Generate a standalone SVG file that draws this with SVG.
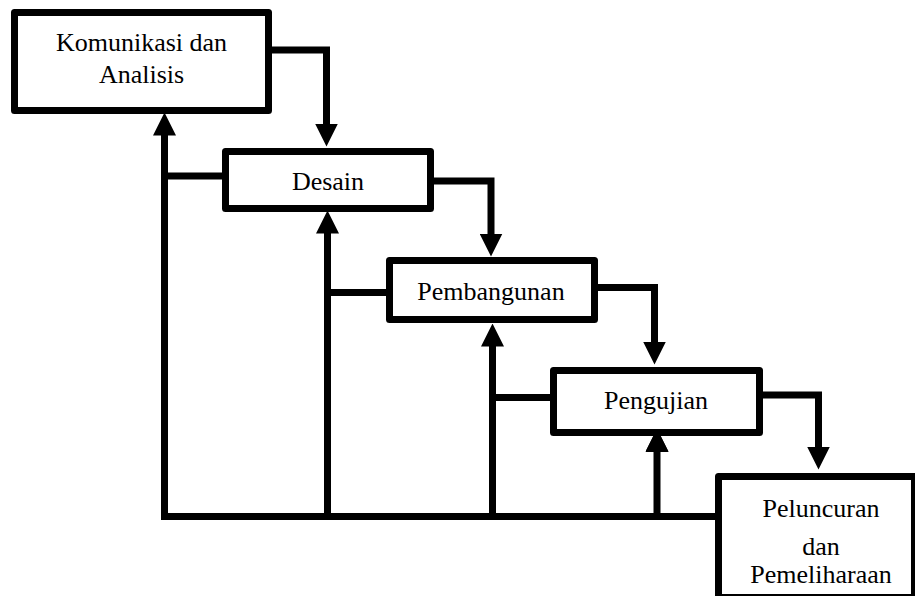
<svg xmlns="http://www.w3.org/2000/svg" width="915" height="596" viewBox="0 0 915 596">
<defs>
<style>
.box{fill:#fff;stroke:#000;stroke-width:7;stroke-linejoin:round}
.lbl{font-family:"Liberation Serif","Times New Roman",serif;font-size:26px;fill:#000;text-anchor:middle}
.c{fill:none;stroke:#000;stroke-width:7;stroke-linejoin:miter}
.ca{fill:none;stroke:#000;stroke-width:7;stroke-linejoin:miter;marker-end:url(#ah)}
</style>
<marker id="ah" markerUnits="userSpaceOnUse" markerWidth="23" markerHeight="23" viewBox="0 0 23 23" refX="0.5" refY="11.5" orient="auto">
<path d="M0,0 L23,11.5 L0,23 Z" fill="#000"/>
</marker>
</defs>
<rect width="915" height="596" fill="#fff"/>
<g id="connectors">
<path class="ca" d="M268,50 H326.5 V124"/>
<path class="ca" d="M430,181 H491 V234"/>
<path class="ca" d="M594,287.5 H654.5 V342"/>
<path class="ca" d="M759,395 H818.5 V447"/>
<path class="ca" d="M718,516.5 H164.5 V135"/>
<path class="c" d="M225,176 H164.5"/>
<path class="ca" d="M327.5,516.5 V233"/>
<path class="c" d="M389,292.5 H327.5"/>
<path class="ca" d="M492.5,516.5 V346"/>
<path class="c" d="M553,397.5 H492.5"/>
<path class="ca" d="M657,516.5 V451"/>
</g>
<g id="komunikasi">
<rect class="box" x="14.5" y="12.5" width="254" height="98"/>
<text class="lbl" x="141.5" y="51">Komunikasi dan</text>
<text class="lbl" x="141.5" y="83">Analisis</text>
</g>
<g id="desain">
<rect class="box" x="225.5" y="151.5" width="205" height="57"/>
<text class="lbl" x="328" y="190">Desain</text>
</g>
<g id="pembangunan">
<rect class="box" x="389.5" y="260.5" width="205" height="59"/>
<text class="lbl" x="491" y="300">Pembangunan</text>
</g>
<g id="pengujian">
<rect class="box" x="553.5" y="370.5" width="206" height="62"/>
<text class="lbl" x="656" y="409">Pengujian</text>
</g>
<g id="peluncuran">
<rect class="box" x="718.5" y="476.5" width="196" height="121"/>
<text class="lbl" x="821" y="517">Peluncuran</text>
<text class="lbl" x="821" y="555">dan</text>
<text class="lbl" x="821" y="583">Pemeliharaan</text>
</g>
<path d="M645.5,452 L657,429 L668.5,452 Z" fill="#000"/>
</svg>
